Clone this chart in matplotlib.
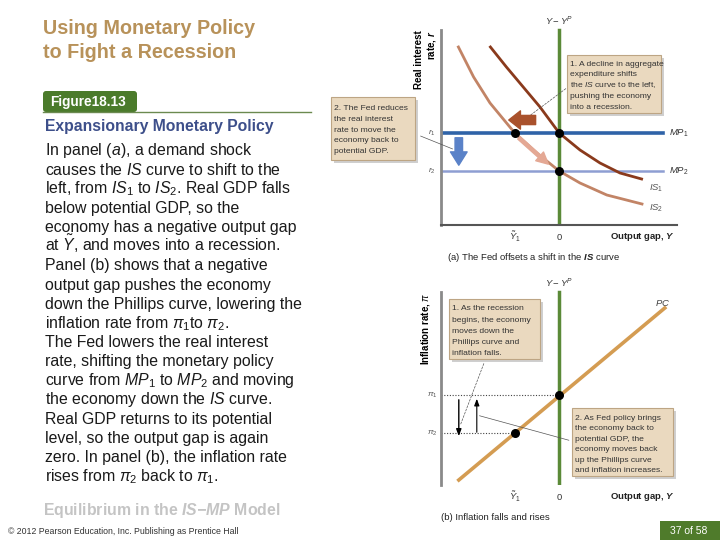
import matplotlib
matplotlib.use('Agg')
import matplotlib.pyplot as plt
from matplotlib.patches import Rectangle, FancyBboxPatch

plt.rcParams['font.family'] = ['Liberation Sans', 'DejaVu Sans']
plt.rcParams['mathtext.fontset'] = 'custom'
plt.rcParams['mathtext.rm'] = 'Liberation Sans'
plt.rcParams['mathtext.it'] = 'Liberation Sans:italic'
plt.rcParams['mathtext.bf'] = 'Liberation Sans:bold'
plt.rcParams['mathtext.sf'] = 'Liberation Sans:bold:italic'

# --- panel (a): IS-MP (x = output gap, y = real interest rate) ---
is1_x = [-1.72, -1.32, -0.90, -0.48, 0.0, 0.52, 1.02, 1.52, 2.06]
is1_y = [8.9, 7.9, 6.9, 5.9, 4.6, 3.75, 3.1, 2.6, 2.3]
is2_x = [-2.52, -2.14, -1.73, -1.11, -0.56, 0.0, 0.52, 1.19, 2.07]
is2_y = [8.9, 7.4, 6.1, 4.6, 3.6, 2.7, 2.1, 1.5, 1.05]
r1, r2 = 4.6, 2.7
y1_gap = -1.11
mp_end = 2.59

# --- panel (b): Phillips curve ---
pc_x = [-2.51, 2.64]
pc_y = [0.25, 8.85]
pi1, pi2 = 4.5, 2.6

XLIM = (-2.955, 3.02)
YLIM = (0, 10.5)

title_lines = ['Using Monetary Policy', 'to Fight a Recession']
body_lines = [
    r'In panel ($a$), a demand shock',
    r'causes the $IS$ curve to shift to the',
    r'left, from $IS_1$ to $IS_2$. Real GDP falls',
    'below potential GDP, so the',
    'economy has a negative output gap',
    r'at $\tilde{Y}$, and moves into a recession.',
    'Panel (b) shows that a negative',
    'output gap pushes the economy',
    'down the Phillips curve, lowering the',
    r'inflation rate from $\pi_1$to $\pi_2$.',
    'The Fed lowers the real interest',
    'rate, shifting the monetary policy',
    r'curve from $MP_1$ to $MP_2$ and moving',
    r'the economy down the $IS$ curve.',
    'Real GDP returns to its potential',
    'level, so the output gap is again',
    'zero. In panel (b), the inflation rate',
    r'rises from $\pi_2$ back to $\pi_1$.',
]

box_a1 = ['1. A decline in aggregate', 'expenditure shifts', r'the $IS$ curve to the left,',
          'pushing the economy', 'into a recession.']
box_a2 = ['2. The Fed reduces', 'the real interest', 'rate to move the',
          'economy back to', 'potential GDP.']
box_b1 = ['1. As the recession', 'begins, the economy', 'moves down the',
          'Phillips curve and', 'inflation falls.']
box_b2 = ['2. As Fed policy brings', 'the economy back to', 'potential GDP, the',
          'economy moves back', 'up the Phillips curve', 'and inflation increases.']

BOX_FACE = '#ead9bf'
BOX_EDGE = '#bda584'
GREEN = '#5b8a38'

fig = plt.figure(figsize=(7.2, 5.4), dpi=100)

# overlay in pixel coordinates for slide decorations
deco = fig.add_axes([0, 0, 1, 1], zorder=0)
deco.set_xlim(0, 720)
deco.set_ylim(540, 0)
deco.axis('off')

for i, t in enumerate(title_lines):
    deco.text(43, 28 + 24 * i, t, fontsize=14.2, fontweight='bold', color='#b8925a', va='center')

deco.add_patch(FancyBboxPatch((43, 91), 94, 21, boxstyle='round,pad=0,rounding_size=3',
                              fc='#4b7b2b', ec='none'))
deco.text(50, 102, 'Figure18.13', color='white', fontsize=9.8, fontweight='bold', va='center')
deco.plot([43, 311], [112, 112], color='#6b8a50', lw=1)
deco.text(45, 127, 'Expansionary Monetary Policy', fontsize=11.3, fontweight='bold',
          color='#3d4f8a', va='center')

# baseline-aligned so accents / subscripts do not shift a line
for i, t in enumerate(body_lines):
    deco.text(45, 155.5 + 19.15 * i, t, fontsize=11.4, color='#1a1a1a', va='baseline')

deco.text(43, 510, r'Equilibrium in the $\mathsf{IS{-}MP}$ Model', fontsize=11.4,
          fontweight='bold', color='#c4c4c4', va='center')
deco.text(8, 531, '\u00a9 2012 Pearson Education, Inc. Publishing as Prentice Hall',
          fontsize=6.35, color='#333333', va='center')
deco.add_patch(Rectangle((660, 521), 60, 19, fc='#4f7b2b', ec='none'))
deco.text(689, 531, '37 of 58', color='white', fontsize=7.5, ha='center', va='center')


def note_box(x0, y0, x1, y1, lines, ty0, dy):
    deco.add_patch(Rectangle((x0 + 3, y0 + 3), x1 - x0, y1 - y0, fc='#b0b0b0', ec='none', alpha=0.6))
    deco.add_patch(Rectangle((x0, y0), x1 - x0, y1 - y0, fc=BOX_FACE, ec=BOX_EDGE, lw=0.8))
    for i, t in enumerate(lines):
        deco.text(x0 + 3, ty0 + 2.5 + dy * i, t, fontsize=6.1, color='#333333', va='baseline')


note_box(567, 55, 661, 113, box_a1, 63, 10.8)
note_box(331, 97, 415, 160, box_a2, 108, 10.6)
note_box(449, 299, 540, 359, box_b1, 308, 11.2)
note_box(572, 408, 673, 476, box_b2, 417, 10.6)

# axis titles and captions
deco.text(426, 30, 'Real interest\nrate, $\\mathsf{r}$', rotation=90, fontsize=7, fontweight='bold',
          ha='center', va='top', multialignment='right', linespacing=1.05)
deco.text(426, 292, r'Inflation rate, $\pi$', rotation=90, fontsize=7, fontweight='bold',
          ha='center', va='top')
deco.text(447, 257, r'(a) The Fed offsets a shift in the $\mathsf{IS}$ curve', fontsize=6.8,
          color='#222222', va='center')
deco.text(441, 518, '(b) Inflation falls and rises', fontsize=6.8, color='#222222', va='center')


def setup_panel(ax, top, bottom_axis):
    ax.set_xlim(*XLIM)
    ax.set_ylim(*YLIM)
    ax.patch.set_alpha(0)
    for s in ['top', 'right']:
        ax.spines[s].set_visible(False)
    ax.spines['left'].set_color('#8a8a8a')
    ax.spines['left'].set_linewidth(2)
    ax.spines['left'].set_bounds(0, top)
    if bottom_axis:
        ax.spines['bottom'].set_color('#555555')
        ax.spines['bottom'].set_linewidth(1.5)
        ax.spines['bottom'].set_bounds(XLIM[0], 2.94)
    else:
        ax.spines['bottom'].set_visible(False)
    ax.set_xticks([])
    ax.set_yticks([])
    ax.plot([0, 0], [0, top], color=GREEN, lw=2.5, zorder=2)
    ax.text(0, top + 0.45, r'$Y - Y^P$', fontsize=6.8, color='#333333', ha='center', va='center')
    ax.text(y1_gap, -0.6, r'$\tilde{Y}_1$', fontsize=6.8, color='#333333', ha='center', va='center')
    ax.text(0, -0.6, '0', fontsize=6.8, color='#333333', ha='center', va='center')
    ax.text(1.27, -0.6, r'Output gap, $\mathsf{Y}$', fontsize=6.8, fontweight='bold',
            color='#222222', va='center')


ax_a = fig.add_axes([441 / 720, 1 - 225 / 540, 239 / 720, 210 / 540], zorder=1)
setup_panel(ax_a, 9.75, True)
ax_a.plot([XLIM[0], mp_end], [r1, r1], color='#2f63a8', lw=2.6, zorder=1)
ax_a.plot([XLIM[0], mp_end], [r2, r2], color='#8e9ed2', lw=1.8, zorder=1)
ax_a.plot(is1_x, is1_y, color='#8a3a1c', lw=2, zorder=3)
ax_a.plot(is2_x, is2_y, color='#c28466', lw=2, zorder=3)
ax_a.scatter([y1_gap, 0, 0], [r1, r1, r2], s=30, color='black', zorder=5)
ax_a.text(2.74, r1, r'$MP_1$', fontsize=6.8, color='#333333', va='center')
ax_a.text(2.74, r2, r'$MP_2$', fontsize=6.8, color='#333333', va='center')
ax_a.text(2.25, 1.85, r'$IS_1$', fontsize=6.8, color='#555555', va='center')
ax_a.text(2.25, 0.85, r'$IS_2$', fontsize=6.8, color='#555555', va='center')
ax_a.text(-3.18, r1, r'$r_1$', fontsize=6, color='#555555', ha='center', va='center')
ax_a.text(-3.18, r2, r'$r_2$', fontsize=6, color='#555555', ha='center', va='center')
ax_a.annotate('', xy=(-1.33, 5.25), xytext=(-0.52, 5.25),
              arrowprops=dict(arrowstyle='simple,head_width=1.1,head_length=0.7,tail_width=0.55',
                              color='#a9512c', mutation_scale=12), zorder=4)
ax_a.annotate('', xy=(-2.51, 2.85), xytext=(-2.51, 4.5),
              arrowprops=dict(arrowstyle='simple,head_width=1.0,head_length=0.8,tail_width=0.45',
                              color='#5a82c8', mutation_scale=12), zorder=4)
ax_a.annotate('', xy=(-0.22, 2.95), xytext=(-1.06, 4.45),
              arrowprops=dict(arrowstyle='simple,head_width=0.7,head_length=0.7,tail_width=0.2',
                              color='#e4a894', mutation_scale=12), zorder=4)
ax_a.annotate('', xy=(-0.78, 5.4), xytext=(0.22, 6.9),
              arrowprops=dict(arrowstyle='-', color='#555555', lw=0.5, linestyle=(0, (3, 2))))
ax_a.annotate('', xy=(-2.6, 3.75), xytext=(-3.53, 4.5), annotation_clip=False,
              arrowprops=dict(arrowstyle='-', color='#555555', lw=0.5))

ax_b = fig.add_axes([441 / 720, 1 - 485 / 540, 239 / 720, 210 / 540], zorder=1)
setup_panel(ax_b, 9.65, False)
ax_b.plot(pc_x, pc_y, color='#d49c52', lw=2.6, zorder=3)
ax_b.plot([XLIM[0], 0], [pi1, pi1], color='#444444', lw=0.8, linestyle=(0, (1, 1.5)), zorder=1)
ax_b.plot([XLIM[0], y1_gap], [pi2, pi2], color='#444444', lw=0.8, linestyle=(0, (1, 1.5)), zorder=1)
ax_b.scatter([0, y1_gap], [pi1, pi2], s=30, color='black', zorder=5)
ax_b.text(2.39, 9.1, '$PC$', fontsize=6.8, color='#444444', va='center')
ax_b.text(-3.18, pi1, r'$\pi_1$', fontsize=6, color='#555555', ha='center', va='center')
ax_b.text(-3.18, pi2, r'$\pi_2$', fontsize=6, color='#555555', ha='center', va='center')
ax_b.annotate('', xy=(-2.51, pi2 - 0.3), xytext=(-2.51, pi1 - 0.1),
              arrowprops=dict(arrowstyle='-|>,head_width=0.15,head_length=0.4', color='black', lw=1))
ax_b.annotate('', xy=(-2.06, pi1 - 0.05), xytext=(-2.06, pi2 - 0.1),
              arrowprops=dict(arrowstyle='-|>,head_width=0.15,head_length=0.4', color='black', lw=0.8))
ax_b.annotate('', xy=(-2.49, 2.9), xytext=(-1.86, 6.2),
              arrowprops=dict(arrowstyle='-', color='#555555', lw=0.5, linestyle=(0, (3, 2))))
ax_b.annotate('', xy=(-2.06, 3.5), xytext=(0.31, 2.2),
              arrowprops=dict(arrowstyle='-', color='#555555', lw=0.5))

fig.savefig('out.png', dpi=100)
